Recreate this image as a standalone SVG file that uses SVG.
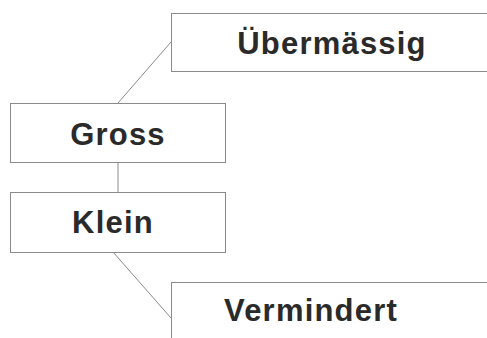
<svg xmlns="http://www.w3.org/2000/svg" width="487" height="338" viewBox="0 0 487 338">
<style>
.box{fill:none;stroke:#8a8a8a;stroke-width:1}
.lbl{font-family:"Liberation Sans",Arial,sans-serif;font-weight:bold;font-size:31px;letter-spacing:1.2px;fill:#2a2a2a;text-anchor:middle}
.con{stroke:#8a8a8a;stroke-width:1;fill:none}
</style>
<rect width="487" height="338" fill="#ffffff"/>
<g id="connectors">
<line class="con" x1="118" y1="103" x2="171" y2="42"/>
<line class="con" x1="118" y1="162" x2="118" y2="192"/>
<line class="con" x1="113" y1="252" x2="171" y2="318"/>
</g>
<g id="node-uebermaessig">
<rect class="box" x="171.5" y="13.5" width="330" height="58"/>
<text class="lbl" x="332" y="54">Übermässig</text>
</g>
<g id="node-gross">
<rect class="box" x="10.5" y="103.5" width="215" height="59"/>
<text class="lbl" x="118" y="145">Gross</text>
</g>
<g id="node-klein">
<rect class="box" x="10.5" y="192.5" width="215" height="60"/>
<text class="lbl" x="113" y="233">Klein</text>
</g>
<g id="node-vermindert">
<rect class="box" x="171.5" y="282.5" width="330" height="70"/>
<text class="lbl" x="311" y="321">Vermindert</text>
</g>
</svg>
